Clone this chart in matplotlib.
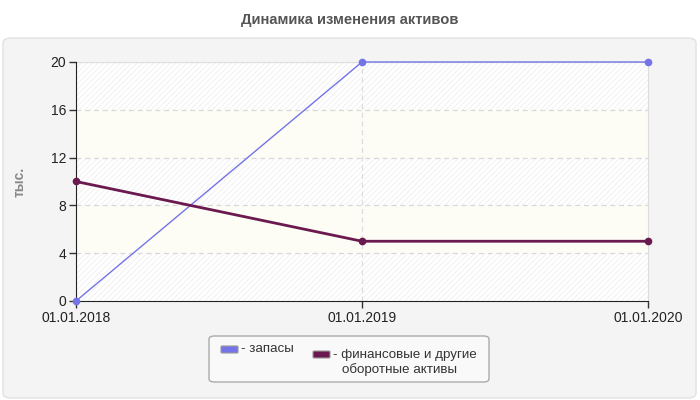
import matplotlib.pyplot as plt
from matplotlib.patches import FancyBboxPatch

plt.rcParams['font.family'] = ['Liberation Sans', 'DejaVu Sans']
plt.rcParams['hatch.linewidth'] = 0.5

# данные
dates = ['01.01.2018', '01.01.2019', '01.01.2020']
zapasy = [0, 20, 20]
fin_aktivy = [10, 5, 5]
y_ticks = [0, 4, 8, 12, 16, 20]

BLUE = '#7474e8'
PURPLE = '#6b1a4f'

fig = plt.figure(figsize=(7, 4), dpi=100)


def px(xp, yp):
    # пиксели (сверху-слева) -> доли фигуры
    return xp / 700, 1 - yp / 400


# фоновая панель
panel = FancyBboxPatch(px(3, 398), 693 / 700, 360 / 400,
                       boxstyle='round,pad=0,rounding_size=0.012',
                       transform=fig.transFigure, facecolor='#f4f4f4',
                       edgecolor='#e2e2e2', linewidth=1, zorder=-5)
fig.patches.append(panel)

fig.text(0.5, 1 - 20 / 400, 'Динамика изменения активов', ha='center', va='center',
         fontsize=10.6, fontweight='bold', color='#555555')

ax = fig.add_axes([76 / 700, 1 - 301 / 400, 572 / 700, 239 / 400])
ax.set_facecolor('white')
x = list(range(len(dates)))

# полосы фона
for i in range(len(y_ticks) - 1):
    if i % 2 == 0:
        ax.axhspan(y_ticks[i], y_ticks[i + 1], facecolor='white', edgecolor='#ececec',
                   hatch='//////', linewidth=0, zorder=0)
    else:
        ax.axhspan(y_ticks[i], y_ticks[i + 1], facecolor='#fdfdf6', edgecolor='none',
                   linewidth=0, zorder=0)

for yv in y_ticks[1:-1]:
    ax.axhline(yv, color='#d8d8d8', linestyle=(0, (4, 3)), linewidth=0.9, zorder=1)
ax.axhline(20, color='#dddddd', linewidth=0.9, zorder=1)
ax.axvline(1, color='#dddddd', linestyle=(0, (4, 3)), linewidth=0.9, zorder=1)

ax.plot(x, zapasy, color=BLUE, linewidth=1, marker='o', markersize=4.5, zorder=3,
        clip_on=False)
ax.plot(x, fin_aktivy, color=PURPLE, linewidth=2, marker='o', markersize=4.5, zorder=3,
        clip_on=False)

ax.set_xlim(0, 2)
ax.set_ylim(0, 20)
ax.set_xticks(x)
ax.set_xticklabels(dates)
ax.set_yticks(y_ticks)
ax.tick_params(axis='both', labelsize=10, length=5, width=1, color='#333333', pad=2)
for lbl in ax.get_xticklabels() + ax.get_yticklabels():
    lbl.set_color('#222222')

ax.spines['top'].set_visible(False)
ax.spines['right'].set_color('#dddddd')
ax.spines['left'].set_color('#222222')
ax.spines['bottom'].set_color('#222222')

fig.text(20 / 700, 1 - 182 / 400, 'тыс.', rotation=90, ha='center', va='center',
         fontsize=10, fontweight='bold', color='#888888')

# легенда
box = FancyBboxPatch(px(209, 382), 280 / 700, 46 / 400,
                     boxstyle='round,pad=0,rounding_size=0.008',
                     transform=fig.transFigure, facecolor='#f9f9f9',
                     edgecolor='#aaaaaa', linewidth=1)
fig.patches.append(box)
for (hx, hy), col in [((221, 353), BLUE), ((313, 358), PURPLE)]:
    fig.patches.append(FancyBboxPatch(px(hx, hy), 17 / 700, 7 / 400,
                                      boxstyle='round,pad=0,rounding_size=0.002',
                                      transform=fig.transFigure, facecolor=col,
                                      edgecolor='#999999', linewidth=0.8))
fig.text(*px(241, 349), '- запасы', fontsize=9.6, color='#333333', va='center')
fig.text(*px(333, 355), '- финансовые и другие', fontsize=9.6, color='#333333', va='center')
fig.text(*px(342, 370), 'оборотные активы', fontsize=9.6, color='#333333', va='center')

fig.savefig('out.png', dpi=100)
